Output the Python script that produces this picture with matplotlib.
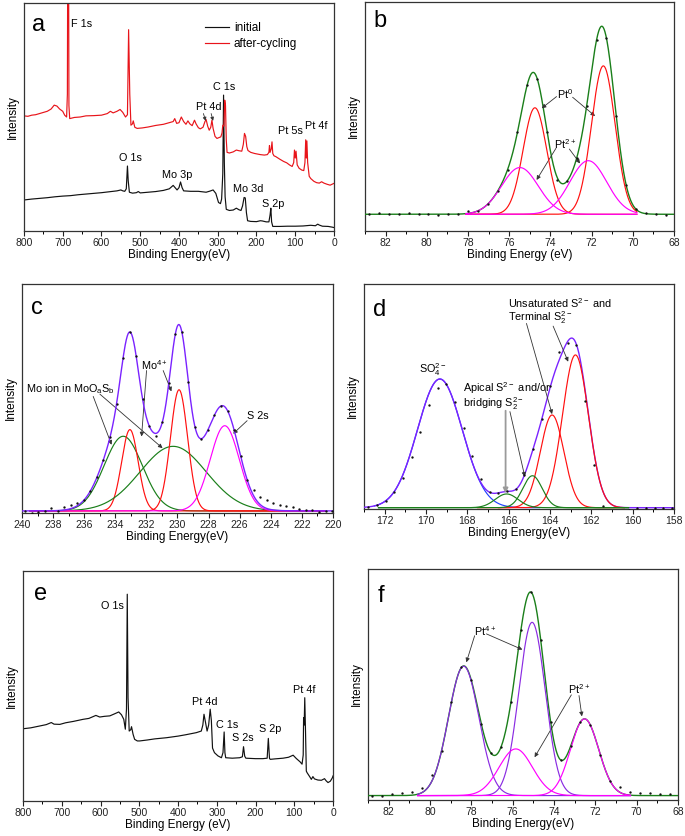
import numpy as np
import matplotlib
matplotlib.use('Agg')
import matplotlib.pyplot as plt
from matplotlib.ticker import MultipleLocator

plt.rcParams['font.family'] = ['Liberation Sans', 'DejaVu Sans']
plt.rcParams['mathtext.default'] = 'regular'

# ---------------- Panel a: survey spectra (intensity in % of axis height)
a_init_E = [800, 780, 760, 740, 720, 700, 680, 660, 640, 620, 600, 580, 560, 550, 545, 540, 536, 533, 531,
            528, 520, 510, 505, 500, 480, 460, 440, 425, 415, 410, 405, 400, 396, 392, 388, 370, 350, 330,
            320, 312, 305, 298, 293, 290, 287, 285, 283, 281, 278, 270, 260, 252, 245, 240, 236, 232, 229,
            226, 223, 215, 200, 190, 185, 175, 168, 165, 163, 161, 158, 140, 120, 100, 80, 60, 48, 42, 38,
            30, 15, 5, 0]
a_init_I = [13.6, 14.0, 14.3, 14.6, 15.0, 15.3, 15.5, 15.9, 16.2, 16.5, 16.8, 17.2, 17.6, 18.0, 17.6, 17.4,
            18.5, 28.5, 22.0, 17.0, 16.6, 16.8, 17.3, 16.7, 17.0, 17.3, 17.8, 18.5, 20.0, 19.0, 18.0, 19.0,
            21.5, 19.0, 17.6, 17.4, 17.4, 17.0, 17.5, 18.0, 16.5, 12.5, 12.0, 14.0, 25.0, 59.6, 30.0, 15.0,
            9.5, 9.0, 9.2, 10.0, 9.3, 9.0, 11.0, 14.7, 14.5, 8.0, 4.5, 4.2, 4.1, 4.5, 4.4, 4.0, 4.0, 7.0,
            10.0, 4.0, 2.0, 2.0, 2.1, 2.1, 2.2, 2.5, 2.3, 3.0, 2.6, 2.1, 2.0, 1.7, 1.5]
a_cyc_E = [800, 790, 780, 770, 760, 750, 740, 730, 722, 715, 708, 700, 695, 690, 688, 687, 685, 684, 682,
           670, 655, 640, 620, 600, 585, 577, 570, 560, 552, 545, 538, 533, 530, 527, 524, 520, 518, 514,
           508, 495, 480, 460, 440, 425, 415, 411, 406, 400, 394, 388, 382, 377, 372, 366, 360, 356, 350,
           345, 338, 333, 330, 326, 322, 318, 315, 312, 307, 302, 296, 292, 289, 287, 284, 282, 280, 278,
           276, 270, 260, 252, 245, 238, 234, 231, 228, 225, 222, 215, 205, 190, 180, 172, 168, 166.5, 165,
           162, 160, 158, 155, 150, 140, 130, 122, 115, 108, 104, 102, 100, 98, 95, 90, 83, 78, 75, 73,
           71.5, 70, 68, 64, 60, 52, 45, 38, 32, 26, 18, 10, 5, 0]
a_cyc_I = [50.5, 50.3, 50.8, 51.0, 51.5, 52.0, 52.5, 53.5, 55.2, 54.8, 53.5, 52.5, 50.8, 50.0, 60.0, 130.0,
           130.0, 55.0, 49.3, 49.8, 50.0, 50.5, 50.6, 50.8, 51.5, 52.5, 51.8, 52.5, 53.3, 52.0, 50.0, 51.0,
           88.3, 60.0, 46.4, 47.0, 48.3, 45.5, 45.0, 45.2, 45.6, 46.3, 46.8, 47.5, 48.0, 49.3, 47.2, 47.5,
           50.0, 48.0, 46.8, 48.3, 47.0, 46.2, 48.6, 47.0, 45.3, 44.8, 45.5, 48.0, 48.9, 46.0, 44.2, 45.5,
           48.6, 45.0, 41.5, 40.6, 41.0, 41.3, 43.0, 46.4, 46.0, 57.4, 55.0, 40.0, 34.5, 34.2, 34.7, 35.5,
           35.2, 35.0, 38.0, 42.8, 41.5, 37.0, 35.3, 34.5, 34.0, 33.5, 33.3, 33.5, 34.5, 37.5, 34.5, 36.0,
           39.1, 34.0, 33.0, 32.6, 31.5, 30.5, 29.9, 29.0, 28.3, 30.0, 35.5, 32.0, 35.0, 29.0, 27.5, 26.7,
           26.5, 30.0, 40.0, 32.0, 39.5, 30.0, 24.0, 23.0, 21.8, 21.2, 21.0, 21.6, 21.0, 20.5, 20.1, 20.5,
           20.9]
a_text = ["F 1s", "C 1s", "Pt 4d", "Pt 5s", "Pt 4f", "O 1s", "Mo 3p", "Mo 3d", "S 2p"]
a_text_E = [651, 284, 322, 113, 46, 526, 404, 221, 157]
a_text_y = [90.7, 63.0, 54.5, 44.0, 46.0, 31.8, 24.5, 18.2, 12.0]
a_arrows = [(337, 51.5, 331, 48.3), (317, 51.5, 312, 48.3)]

# ---------------- Panel b: Pt 4f fit (centre eV, height %, FWHM eV)
b_cen = [71.43, 74.75, 72.16, 75.48]
b_hgt = [64.8, 46.5, 23.4, 20.4]
b_fwhm = [1.35, 1.35, 2.1, 2.1]
b_col = ['#ff1010', '#ff1010', '#ff00ff', '#ff00ff']
b_z = [4, 5, 6, 7]
b_rng = [(78.1, 69.8)] * 4
b_dev_E = [82.3, 80.8, 79.3, 77.8, 73.6, 69.4, 68.4]
b_dev_v = [0.4, 0.5, -0.5, 1.0, -1.5, 0.5, -0.4]
b_text = ["Pt$^{0}$", "Pt$^{2+}$"]
b_text_E = [73.28, 73.28]
b_text_y = [59.8, 38.0]
b_arrows = [(73.70, 58.7, 74.42, 53.6), (72.92, 58.4, 71.83, 50.2),
            (73.73, 36.1, 74.67, 22.3), (73.08, 35.8, 72.56, 29.5)]

# ---------------- Panel c: Mo 3d fit
c_cen = [233.49, 233.06, 230.28, 229.90, 226.96]
c_hgt = [32.6, 35.5, 28.2, 52.9, 37.2]
c_fwhm = [2.9, 1.25, 5.0, 1.3, 2.2]
c_col = ['#1a7f1a', '#ff1010', '#1a7f1a', '#ff1010', '#ff00ff']
c_z = [2, 3, 4, 5, 6]
c_rng = [(239.5, 220.5)] * 5
c_dev_E = [239.4, 238.9, 238.2, 237.4, 236.9, 236.5, 231.4, 225.1, 224.7, 224.3, 223.9, 223.4, 223.0, 222.6,
           222.2, 221.7, 221.3, 220.9]
c_dev_v = [-0.8, -0.5, 1.2, 1.5, 1.5, 1.0, -1.0, 2.5, 3.5, 3.5, 3.0, 2.5, 2.2, 1.8, 1.0, 0.6, 0.2, -0.3]
c_text = ["Mo$^{4+}$", "Mo ion in MoO$_a$S$_b$", "S 2s"]
c_text_E = [231.5, 239.74, 224.82]
c_text_y = [64.7, 54.1, 42.2]
c_text_ha = ['center', 'left', 'center']
c_arrows = [(231.99, 62.2, 232.31, 33.4), (230.92, 62.2, 230.39, 53.1),
            (235.42, 50.9, 234.24, 29.8), (234.99, 51.9, 230.96, 28.3),
            (225.52, 40.3, 226.42, 34.6)]

# ---------------- Panel d: S 2p fit
d_cen = [169.33, 166.10, 164.85, 163.90, 162.77]
d_hgt = [57.2, 6.1, 14.2, 41.2, 67.9]
d_fwhm = [2.55, 1.3, 1.1, 1.34, 1.48]
d_col = ['#2040ff', '#1a7f1a', '#1a7f1a', '#ff1010', '#ff1010']
d_z = [2, 8, 9, 6, 7]
d_rng = [(172.5, 164.5), (172.3, 160.2), (172.3, 160.2), (167.5, 160.4), (166.5, 160.4)]
d_dev_E = [171.2, 170.8, 170.4, 170.0, 169.6, 168.4, 168.0, 167.6, 167.2, 163.6, 163.2, 162.4, 162.0, 161.6,
           161.2, 160.8, 160.4]
d_dev_v = [-1.5, -3.0, -5.5, -5.0, -3.5, 1.5, 3.0, 3.0, 1.5, 3.5, -1.0, -4.5, -6.0, -7.0, -5.5, -2.5, -1.0]
d_text = ["SO$_4^{2-}$", "Unsaturated S$^{2-}$ and", "Terminal S$_2^{2-}$",
          "Apical S$^{2-}$ and/or", "bridging S$_2^{2-}$"]
d_text_E = [169.68, 166.02, 166.02, 168.23, 168.23]
d_text_y = [61.8, 91.7, 85.2, 53.6, 47.0]
d_text_ha = ['center', 'left', 'left', 'left', 'left']
d_arrows = [(165.14, 82.5, 163.90, 42.2), (163.85, 81.3, 163.12, 65.5),
            (165.94, 43.3, 165.22, 14.4)]
d_gray_arrow = (166.15, 43.7, 166.15, 7.0)

# ---------------- Panel e: survey after test
e_E = [800, 780, 757, 740, 727, 720, 705, 690, 670, 645, 630, 612, 602, 590, 576, 565, 553, 546, 540, 536,
       533, 531, 529, 526, 522, 520, 516, 512, 505, 499, 480, 460, 430, 400, 380, 353, 340, 336, 333, 330,
       325, 321, 317, 314, 311, 306, 297, 288, 284, 281, 279, 277, 260, 241, 234, 231, 228, 225, 200, 181,
       170, 167, 164, 162, 150, 129, 115, 103, 95, 85, 80, 77, 76, 74.5, 73, 71, 69, 67, 60, 56, 52, 48,
       39, 30, 22, 18, 13, 7, 2, 0]
e_I = [31.4, 31.8, 32.6, 33.2, 34.1, 33.4, 33.3, 34.0, 34.6, 35.5, 35.9, 37.2, 36.5, 36.8, 37.0, 37.8, 38.7,
       37.5, 35.5, 31.2, 40.0, 89.9, 45.0, 30.4, 31.0, 32.3, 29.0, 26.8, 26.1, 26.1, 26.5, 27.0, 27.5, 28.2,
       28.8, 29.7, 30.4, 33.0, 37.7, 35.0, 30.4, 33.0, 39.9, 35.0, 23.0, 21.0, 19.6, 18.8, 21.0, 30.0, 21.0,
       18.8, 18.6, 18.8, 19.2, 23.6, 19.5, 18.6, 18.4, 18.4, 18.6, 27.2, 18.5, 18.1, 18.3, 18.6, 19.0, 19.9,
       18.5, 17.0, 16.0, 20.0, 36.2, 33.0, 44.9, 30.0, 13.0, 12.3, 10.5, 9.4, 10.6, 9.6, 9.1, 9.0, 9.7, 8.8,
       8.0, 8.6, 10.0, 10.9]
e_text = ["O 1s", "Pt 4d", "C 1s", "S 2s", "S 2p", "Pt 4f"]
e_text_E = [570, 330, 273, 234, 163, 75]
e_text_y = [84.8, 43.0, 32.9, 27.2, 31.4, 48.3]

# ---------------- Panel f: Pt 4f fit after test
f_cen = [78.37, 75.06, 75.85, 72.52]
f_hgt = [56.0, 75.0, 20.2, 33.2]
f_fwhm = [1.73, 1.5, 1.9, 1.6]
f_col = ['#8a2be2', '#8a2be2', '#ff00ff', '#ff00ff']
f_z = [4, 5, 6, 7]
f_rng = [(80.6, 70.3)] * 4
f_dev_E = [81.7, 81.2, 80.7, 80.2, 79.8, 70.8, 70.3, 69.8, 69.4, 68.9, 68.4]
f_dev_v = [0.7, 1.0, 1.4, 2.0, 3.0, 2.3, 1.5, 1.2, 1.0, 0.9, 0.9]
f_text = ["Pt$^{4+}$", "Pt$^{2+}$"]
f_text_E = [77.35, 72.79]
f_text_y = [73.3, 48.1]
f_arrows = [(77.84, 71.1, 78.24, 59.6), (77.27, 71.9, 75.53, 65.1),
            (73.16, 45.5, 74.94, 18.5), (72.79, 45.2, 72.65, 36.2)]

GREEN = '#1a7f1a'
PURPLE = '#7a22ff'
TICK_FS = 7.5
LAB_FS = 8.5
ANN_FS = 7.8
LET_FS = 17


def gauss(x, c, h, w):
    return h * np.exp(-4 * np.log(2) * (x - c) ** 2 / w ** 2)


def style(ax, xlim, major, minor, xlabel):
    ax.set_xlim(*xlim)
    ax.xaxis.set_major_locator(MultipleLocator(major))
    ax.xaxis.set_minor_locator(MultipleLocator(minor))
    ax.set_yticks([])
    ax.tick_params(axis='x', which='major', direction='out', length=3.5, width=0.8,
                   labelsize=TICK_FS, pad=1.5, colors='#222')
    ax.tick_params(axis='x', which='minor', direction='out', length=2.0, width=0.7)
    for s in ax.spines.values():
        s.set_color('#333')
        s.set_linewidth(0.9)
    ax.set_xlabel(xlabel, fontsize=LAB_FS, labelpad=1)
    ax.set_ylabel('Intensity', fontsize=LAB_FS, labelpad=4)


def arrow(ax, x1, y1, x2, y2, color='#333', lw=0.6, ms=6):
    tr = ax.get_xaxis_transform()
    ax.annotate('', xy=(x2, y2 / 100), xytext=(x1, y1 / 100), xycoords=tr, textcoords=tr,
                arrowprops=dict(arrowstyle='-|>', color=color, lw=lw, mutation_scale=ms,
                                shrinkA=0, shrinkB=0))


def labels(ax, texts, xs, ys, has=None):
    tr = ax.get_xaxis_transform()
    for i, (t, x, y) in enumerate(zip(texts, xs, ys)):
        ha = has[i] if has else 'center'
        ax.text(x, y / 100, t, transform=tr, ha=ha, va='center', fontsize=ANN_FS)


def letter(ax, s, x, y):
    ax.text(x, y, s, transform=ax.transAxes, fontsize=LET_FS, ha='left', va='center')


def fit_panel(ax, cen, hgt, fwhm, cols, zs, rngs, base, xlim, step, dev_E, dev_v, env_col, env_z):
    x = np.linspace(xlim[0], xlim[1], 1200)
    env = np.zeros_like(x)
    for c, h, w in zip(cen, hgt, fwhm):
        env += gauss(x, c, h, w)
    for c, h, w, col, z, r in zip(cen, hgt, fwhm, cols, zs, rngs):
        xc = np.linspace(r[0], r[1], 900)
        ax.plot(xc, gauss(xc, c, h, w), color=col, lw=0.85, zorder=z)
    ax.plot(x, env, color=env_col, lw=1.0, zorder=env_z)
    # measured points
    xd = np.arange(xlim[0] - 0.2, xlim[1], -step)
    yd = np.zeros_like(xd)
    for c, h, w in zip(cen, hgt, fwhm):
        yd += gauss(xd, c, h, w)
    for e, v in zip(dev_E, dev_v):
        yd[np.argmin(np.abs(xd - e))] += v
    ax.plot(xd, yd, 'o', color='#111', ms=1.7, mew=0, zorder=12)
    ax.set_ylim(-base, 100 - base)


fig = plt.figure(figsize=(6.85, 8.36), dpi=100)

# ---- a
ax = fig.add_axes([0.0350, 0.7237, 0.4526, 0.2727])
ax.plot(a_init_E, a_init_I, color='#111', lw=0.85, label='initial')
ax.plot(a_cyc_E, a_cyc_I, color='#e8141a', lw=0.85, label='after-cycling')
ax.set_ylim(0, 100)
style(ax, (800, 0), 100, 50, 'Binding Energy(eV)')
labels(ax, a_text, a_text_E, a_text_y)
for ar in a_arrows:
    arrow(ax, *ar, ms=5)
ax.legend(loc='upper left', bbox_to_anchor=(0.584, 0.915), frameon=False, fontsize=LAB_FS,
          handlelength=2.0, handletextpad=0.45, labelspacing=0.3, borderpad=0, borderaxespad=0)
letter(ax, 'a', 0.026, 0.905)

# ---- b
ax = fig.add_axes([0.5328, 0.7237, 0.4511, 0.2739])
fit_panel(ax, b_cen, b_hgt, b_fwhm, b_col, b_z, b_rng, 7.3, (83, 68), 0.48, b_dev_E, b_dev_v, GREEN, 3)
style(ax, (83, 68), 2, 1, 'Binding Energy (eV)')
labels(ax, b_text, b_text_E, b_text_y)
for ar in b_arrows:
    arrow(ax, *ar)
letter(ax, 'b', 0.026, 0.915)

# ---- c
ax = fig.add_axes([0.0321, 0.3864, 0.4540, 0.2739])
fit_panel(ax, c_cen, c_hgt, c_fwhm, c_col, c_z, c_rng, 0.9, (240, 220), 0.42, c_dev_E, c_dev_v, PURPLE, 10)
style(ax, (240, 220), 2, 1, 'Binding Energy(eV)')
labels(ax, c_text, c_text_E, c_text_y, c_text_ha)
for ar in c_arrows:
    arrow(ax, *ar)
letter(ax, 'c', 0.030, 0.895)

# ---- d
ax = fig.add_axes([0.5314, 0.3911, 0.4526, 0.2691])
fit_panel(ax, d_cen, d_hgt, d_fwhm, d_col, d_z, d_rng, 0.6, (173, 158), 0.42, d_dev_E, d_dev_v, PURPLE, 3)
style(ax, (173, 158), 2, 1, 'Binding Energy(eV)')
labels(ax, d_text, d_text_E, d_text_y, d_text_ha)
for ar in d_arrows:
    arrow(ax, *ar)
arrow(ax, *d_gray_arrow, color='#9a9a9a', lw=1.3, ms=7)
letter(ax, 'd', 0.029, 0.884)

# ---- e
ax = fig.add_axes([0.0336, 0.0419, 0.4526, 0.2751])
ax.plot(e_E, e_I, color='#111', lw=0.85)
ax.set_ylim(0, 100)
style(ax, (800, 0), 100, 50, 'Binding Energy (eV)')
labels(ax, e_text, e_text_E, e_text_y)
letter(ax, 'e', 0.036, 0.90)

# ---- f
ax = fig.add_axes([0.5372, 0.0431, 0.4526, 0.2763])
fit_panel(ax, f_cen, f_hgt, f_fwhm, f_col, f_z, f_rng, 1.9, (83, 68), 0.48, f_dev_E, f_dev_v, GREEN, 3)
style(ax, (83, 68), 2, 1, 'Binding Energy(eV)')
labels(ax, f_text, f_text_E, f_text_y)
for ar in f_arrows:
    arrow(ax, *ar)
letter(ax, 'f', 0.030, 0.883)

fig.savefig('out.png', dpi=100)
